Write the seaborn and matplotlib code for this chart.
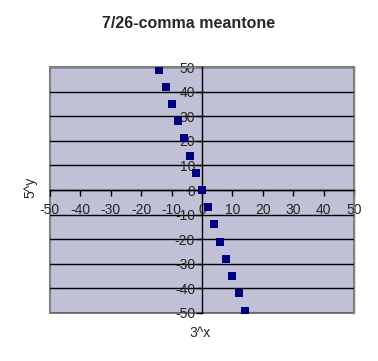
import matplotlib
matplotlib.use("Agg")
import matplotlib.pyplot as plt
import seaborn as sns
import pandas as pd

x_vals = [-14, -12, -10, -8, -6, -4, -2, 0, 2, 4, 6, 8, 10, 12, 14]
y_vals = [49, 42, 35, 28, 21, 14, 7, 0, -7, -14, -21, -28, -35, -42, -49]
ticks = [-50, -40, -30, -20, -10, 0, 10, 20, 30, 40, 50]

sns.set_style("white")
plt.rcParams['font.family'] = ['Liberation Sans', 'DejaVu Sans']

df = pd.DataFrame({"x": x_vals, "y": y_vals})

fig = plt.figure(figsize=(3.78, 3.61), dpi=100)
ax = fig.add_axes([0.132, 0.133, 0.805, 0.681])
ax.set_facecolor("#C0C0D6")

sns.scatterplot(data=df, x="x", y="y", ax=ax, marker="s", s=28,
                color="#000080", edgecolor="#000080", linewidth=0, zorder=5)

ax.set_xlim(-50, 50)
ax.set_ylim(-50, 50)
ax.set_xticks(ticks)
ax.set_yticks(ticks)
ax.set_xticklabels([str(t) for t in ticks], fontsize=9.5)
ax.set_yticklabels([str(t) for t in ticks], fontsize=9.5)

ax.yaxis.grid(True, color="black", linewidth=1)
ax.xaxis.grid(False)
ax.set_axisbelow(True)

for s in ["left", "bottom"]:
    ax.spines[s].set_position("zero")
    ax.spines[s].set_color("black")
    ax.spines[s].set_linewidth(1)
    ax.spines[s].set_zorder(3)
for s in ["top", "right"]:
    ax.spines[s].set_color("#808080")
    ax.spines[s].set_linewidth(1)
ax.patch.set_edgecolor("#808080")
ax.patch.set_linewidth(1.5)

ax.tick_params(axis="both", direction="out", length=4, width=1, color="black",
               pad=1, bottom=True, left=True)
ax.tick_params(axis="x", pad=5)

ax.set_xlabel("")
ax.set_ylabel("")
fig.text(0.5, 0.935, "7/26-comma meantone", ha="center", va="center",
         fontsize=11.5, fontweight="bold")
fig.text(0.53, 0.078, "3^x", ha="center", va="center", fontsize=10)
fig.text(0.08, 0.48, "5^y", ha="center", va="center", fontsize=10, rotation=90)

fig.savefig("out.png", dpi=100, facecolor="white")
